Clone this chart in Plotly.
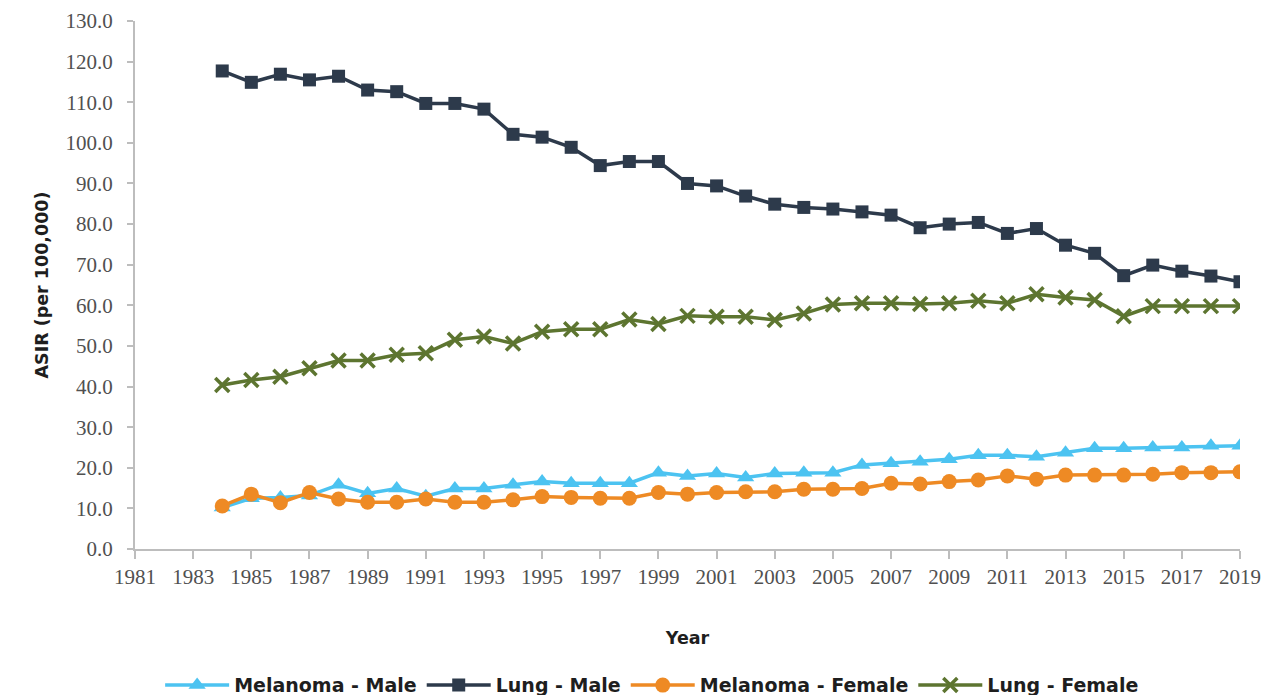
import plotly.graph_objects as go

years = list(range(1984, 2020))

melanoma_male = [10.2, 12.5, 12.7, 13.2, 15.8, 13.7, 14.9, 13.0, 14.9, 14.9, 15.8,
                 16.6, 16.2, 16.2, 16.2, 18.8, 18.0, 18.6, 17.6, 18.6, 18.8, 18.8,
                 20.7, 21.1, 21.5, 22.1, 23.1, 23.1, 22.7, 23.7, 24.8, 24.8, 25.0,
                 25.0, 25.4, 25.4]
lung_male = [117.7, 114.9, 116.9, 115.5, 116.4, 113.0, 112.6, 109.7, 109.7, 108.3, 102.1,
             101.4, 98.9, 94.4, 95.4, 95.4, 90.0, 89.4, 86.9, 84.9, 84.1, 83.7,
             83.0, 82.2, 79.1, 80.0, 80.4, 77.7, 78.9, 74.8, 72.8, 67.3, 69.9,
             68.4, 67.2, 65.8]
melanoma_female = [10.6, 13.5, 11.4, 13.9, 12.3, 11.5, 11.5, 12.3, 11.5, 11.5, 12.1,
                   12.9, 12.7, 12.5, 12.5, 13.9, 13.5, 13.9, 14.1, 14.1, 14.7, 14.7,
                   14.9, 16.2, 16.0, 16.6, 17.0, 18.0, 17.2, 18.2, 18.2, 18.2, 18.4,
                   18.8, 18.8, 19.0]
lung_female = [40.4, 41.6, 42.4, 44.5, 46.4, 46.4, 47.8, 48.2, 51.5, 52.3, 50.6,
               53.5, 54.1, 54.1, 56.5, 55.4, 57.4, 57.2, 57.2, 56.4, 58.0, 60.2,
               60.5, 60.5, 60.3, 60.5, 61.1, 60.5, 62.7, 61.9, 61.3, 57.3, 59.8,
               59.8, 59.8, 59.8]

x_ticks = list(range(1981, 2020, 2))
y_ticks = list(range(0, 131, 10))

series = [
    ("Melanoma - Male", melanoma_male, "#4CC3F1", "triangle-up", 15),
    ("Lung - Male", lung_male, "#2D3A4B", "square", 13),
    ("Melanoma - Female", melanoma_female, "#EE8A24", "circle", 15),
    ("Lung - Female", lung_female, "#5D7530", "x-thin", 14),
]

fig = go.Figure()
for name, vals, color, sym, size in series:
    marker = dict(symbol=sym, size=size, color=color)
    if sym == "x-thin":
        marker["line"] = dict(color=color, width=3.5)
    fig.add_trace(go.Scatter(
        x=years, y=vals, name=name, mode="lines+markers",
        line=dict(color=color, width=3.5), marker=marker,
    ))

axis_font = dict(family="Liberation Serif", size=21, color="#505050")
title_font = dict(family="DejaVu Sans", size=17.5, color="#1E1E1E", weight="bold")

fig.update_layout(
    width=1276, height=687,
    paper_bgcolor="white", plot_bgcolor="white",
    margin=dict(l=127, r=44, t=13, b=146, autoexpand=False),
    showlegend=True,
    legend=dict(orientation="h", x=0.468, xanchor="center", y=-0.258, yanchor="middle",
                font=dict(family="DejaVu Sans", size=19, color="#1E1E1E", weight="bold"),
                itemwidth=64, tracegroupgap=0),
)
fig.update_xaxes(
    range=[1981, 2019], tickmode="array", tickvals=x_ticks,
    ticktext=[str(t) for t in x_ticks],
    showgrid=False, zeroline=False, showline=True, linecolor="#BDBDBD", linewidth=2,
    ticks="outside", ticklen=8, tickcolor="#BDBDBD", tickwidth=1.5, tickfont=axis_font,
    title=dict(text="Year", font=title_font, standoff=44),
)
fig.update_yaxes(
    range=[0, 130], tickmode="array", tickvals=y_ticks,
    ticktext=[f"{t:.1f}" for t in y_ticks],
    showgrid=False, zeroline=False, showline=True, linecolor="#BDBDBD", linewidth=2,
    ticks="outside", ticklen=6, tickcolor="#BDBDBD", tickwidth=1.5, tickfont=axis_font,
    ticklabelstandoff=10,
    title=dict(text="ASIR (per 100,000)", font=title_font, standoff=12),
)

fig.write_html("out.html")
